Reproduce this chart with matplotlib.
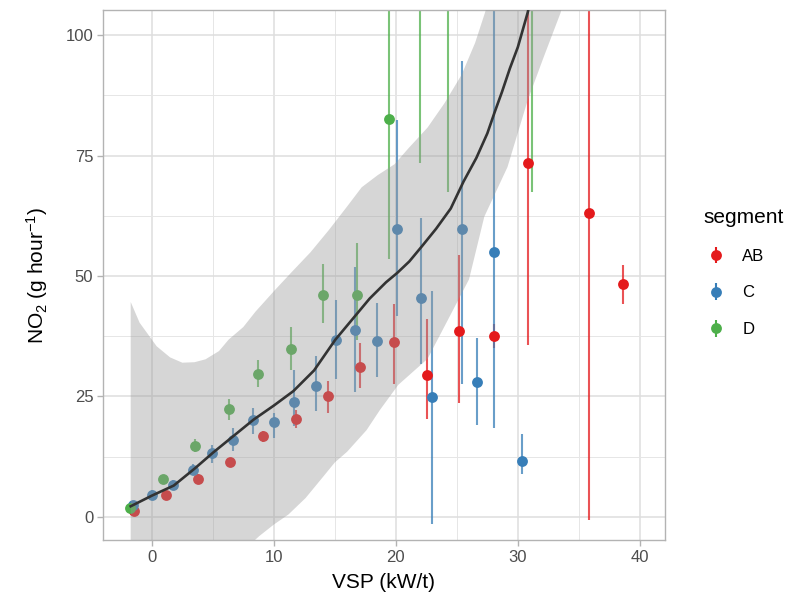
import matplotlib
matplotlib.use("Agg")
import matplotlib.pyplot as plt
import numpy as np

plt.rcParams['font.family'] = ['Liberation Sans', 'DejaVu Sans']
plt.rcParams['mathtext.default'] = 'regular'

# ---- data ----
segments = ["AB", "C", "D"]
colors = {"AB": "#E41A1C", "C": "#377EB8", "D": "#4DAF4A"}

ab_x = [-1.43, 1.16, 3.76, 6.41, 9.14, 11.80, 14.44, 17.07, 19.85, 22.56, 25.20, 28.05, 30.86, 35.84, 38.60]
ab_y = [1.2, 4.5, 7.9, 11.3, 16.7, 20.3, 25.0, 31.2, 36.2, 29.5, 38.5, 37.5, 73.5, 63.0, 48.3]
ab_lo = [0.4, 3.6, 7.0, 10.3, 15.6, 18.5, 21.6, 26.8, 27.6, 20.4, 23.7, 35.0, 35.7, -0.7, 44.1]
ab_hi = [2.0, 5.4, 8.8, 12.3, 17.8, 22.2, 28.2, 36.1, 44.1, 41.0, 54.4, 40.0, 140.0, 200.0, 52.2]

c_x = [-1.52, 0.04, 1.71, 3.40, 4.93, 6.63, 8.32, 9.99, 11.68, 13.43, 15.07, 16.66, 18.43, 20.07, 22.04, 22.99, 25.45, 26.66, 28.05, 30.32]
c_y = [2.5, 4.6, 6.6, 9.8, 13.2, 15.9, 20.1, 19.7, 23.9, 27.2, 36.7, 38.8, 36.6, 59.8, 45.4, 24.9, 59.8, 27.9, 55.0, 11.6]
c_lo = [1.8, 3.7, 5.5, 8.7, 11.1, 13.6, 17.1, 16.3, 18.8, 22.0, 28.6, 26.0, 29.0, 41.7, 31.8, -1.4, 27.6, 19.0, 18.5, 8.9]
c_hi = [3.2, 5.5, 7.7, 11.0, 14.9, 18.4, 22.6, 21.6, 30.5, 33.3, 45.0, 51.8, 44.4, 82.3, 62.1, 46.8, 94.7, 37.1, 150.0, 17.3]

d_x = [-1.79, 0.89, 3.54, 6.30, 8.68, 11.41, 14.06, 16.80, 19.44, 21.98, 24.30, 31.14]
d_y = [1.9, 7.8, 14.8, 22.4, 29.6, 34.9, 46.1, 46.1, 82.5, 125.0, 120.0, 130.0]
d_lo = [1.2, 6.9, 13.5, 20.2, 27.0, 30.5, 40.3, 36.7, 53.5, 73.5, 67.5, 67.5]
d_hi = [2.6, 8.7, 16.1, 24.5, 32.6, 39.5, 52.5, 56.8, 160.0, 180.0, 170.0, 190.0]

# smooth fit
fit_x = [-1.73, 0.0, 1.80, 3.5, 5.05, 6.7, 8.35, 10.0, 11.6, 13.3, 15.05, 16.5, 17.85, 19.2, 20.1, 21.1, 22.15, 23.3, 24.5, 25.55, 26.6, 27.5, 28.1, 28.7, 29.35, 30.0, 30.8, 31.3]
fit_y = [2.2, 4.4, 6.5, 10.0, 13.4, 16.8, 20.2, 23.1, 26.1, 30.4, 36.8, 41.2, 45.3, 48.7, 50.6, 53.0, 56.2, 59.8, 64.0, 69.6, 74.5, 79.6, 84.0, 88.2, 93.1, 97.5, 104.6, 110.0]

rib_up_x = [-1.73, -1.0, 0.4, 1.5, 2.5, 3.5, 4.4, 5.5, 6.3, 7.5, 8.5, 10.1, 11.5, 13.0, 14.5, 16.0, 17.2, 18.5, 19.9, 21.0, 22.6, 24.0, 25.4, 26.5, 27.3, 28.5]
rib_up = [44.6, 40.3, 35.4, 33.1, 32.0, 32.1, 32.7, 34.4, 36.8, 39.4, 42.6, 47.1, 50.9, 54.9, 59.5, 64.4, 68.4, 70.9, 73.2, 76.4, 80.8, 85.9, 91.8, 98.4, 104.6, 115.0]

rib_lo_x = [-1.73, 1.0, 3.5, 6.0, 8.8, 10.0, 11.2, 12.6, 14.0, 15.0, 16.0, 17.6, 18.7, 20.2, 22.6, 26.0, 27.25, 29.15, 30.8, 32.1, 33.5, 34.5]
rib_lo = [-40.0, -27.0, -18.0, -10.5, -4.0, -1.6, 0.5, 3.9, 8.2, 11.3, 13.5, 18.0, 22.2, 27.4, 32.8, 49.3, 62.3, 72.6, 86.4, 95.3, 104.6, 115.0]

x_ticks = [0, 10, 20, 30, 40]
y_ticks = [0, 25, 50, 75, 100]
x_minor = [5, 15, 25, 35]
y_minor = [12.5, 37.5, 62.5, 87.5]

series = {
    "AB": (ab_x, ab_y, ab_lo, ab_hi),
    "C": (c_x, c_y, c_lo, c_hi),
    "D": (d_x, d_y, d_lo, d_hi),
}

# ---- figure ----
fig = plt.figure(figsize=(7.95, 6.06), dpi=100)
ax = fig.add_axes([103 / 795, 1 - 540 / 606, (665 - 103) / 795, (540 - 10) / 606])

handles = []
for seg in segments:
    x, y, lo, hi = (np.asarray(v, dtype=float) for v in series[seg])
    col = colors[seg]
    ax.vlines(x, lo, hi, colors=col, linewidth=1.5, alpha=0.75, zorder=2)
    ax.plot(x, y, linestyle="none", marker="o", markersize=7.8, color=col,
            markeredgewidth=0, zorder=2.5)
    h = ax.errorbar([np.nan], [np.nan], yerr=[1], fmt="o", color=col,
                    markersize=7.8, markeredgewidth=0, elinewidth=1.5, capsize=0)
    handles.append(h)

# ribbon over the points (like geom_smooth) and fitted line
rx = np.union1d(rib_up_x, rib_lo_x)
up_i = np.interp(rx, rib_up_x, rib_up)
lo_i = np.interp(rx, rib_lo_x, rib_lo)
ax.fill_between(rx, lo_i, up_i, color="#999999", alpha=0.4, linewidth=0, zorder=3)
ax.plot(fit_x, fit_y, color="#333333", linewidth=1.9, zorder=4)

ax.set_xticks(x_ticks)
ax.set_yticks(y_ticks)
ax.set_xticks(x_minor, minor=True)
ax.set_yticks(y_minor, minor=True)
ax.set_xlim(-4.0, 42.06)
ax.set_ylim(-4.8, 105.2)
ax.grid(which="major", color="#DEDEDE", linewidth=1.1, zorder=0)
ax.grid(which="minor", color="#E6E6E6", linewidth=0.7, zorder=0)
ax.set_axisbelow(True)
for s in ax.spines.values():
    s.set_color("#B3B3B3")
    s.set_linewidth(1.0)
ax.tick_params(which="major", length=4, width=1.0, color="#B3B3B3",
               labelsize=12, labelcolor="#4D4D4D", pad=3)
ax.tick_params(which="minor", length=0)

ax.set_xlabel("VSP (kW/t)", fontsize=15, color="black", labelpad=6)
ax.set_ylabel(r"NO$_2$ (g hour$^{-1}$)", fontsize=15, color="black", labelpad=11)

leg = fig.legend(handles, segments, title="segment", loc="upper left",
                 bbox_to_anchor=(688 / 795, 1 - 193 / 606), frameon=False,
                 fontsize=12, title_fontsize=15, handlelength=1.5,
                 handletextpad=0.85, labelspacing=1.3, alignment="left")

fig.savefig("out.png", dpi=100)
